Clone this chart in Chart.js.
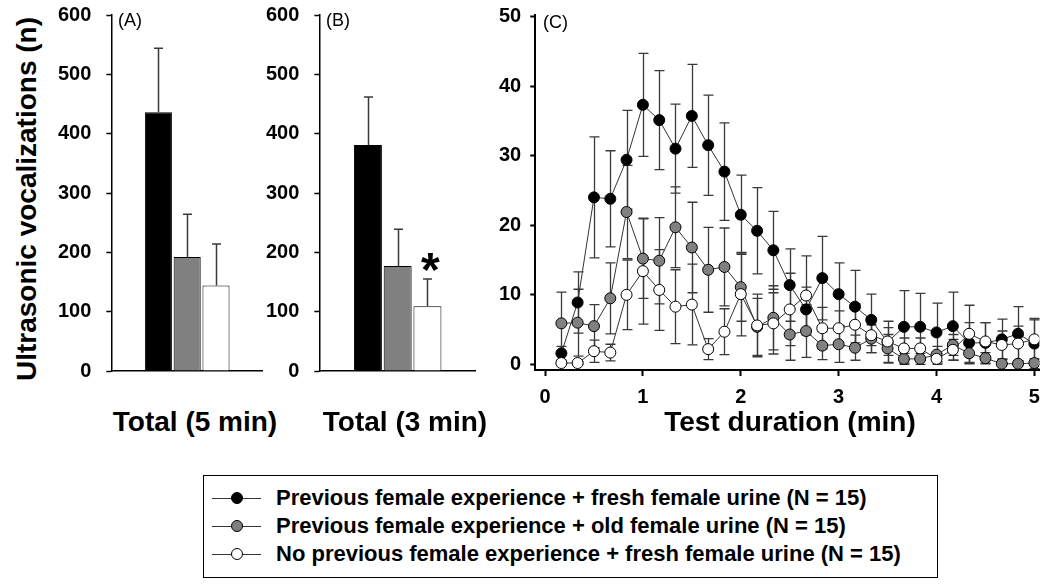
<!DOCTYPE html>
<html><head><meta charset="utf-8">
<script src="https://cdn.jsdelivr.net/npm/chart.js@4.4.0/dist/chart.umd.min.js"></script>
<style>
html,body{margin:0;padding:0;background:#fff;}
body{width:1050px;height:587px;overflow:hidden;position:relative;font-family:"Liberation Sans",Arial,sans-serif;color:#000;}
.wrap{position:absolute;left:0;top:0;}
.t{position:absolute;white-space:nowrap;line-height:1;}
.b{font-weight:bold;}
#legend{position:absolute;left:203px;top:475px;width:735px;height:103px;border:1.5px solid #000;box-sizing:border-box;}
.lrow{position:absolute;left:0;height:22px;width:730px;}
.lline{position:absolute;left:8px;width:49px;top:10.5px;height:1px;background:#333;}
.ldot{position:absolute;left:27px;top:5px;width:10px;height:10px;border:1px solid #000;border-radius:50%;}
.ltxt{position:absolute;left:72px;top:0;font-weight:bold;font-size:22px;line-height:22px;}
</style></head><body>
<div class="wrap" id="wA"><canvas id="cA"></canvas></div>
<div class="wrap" id="wB"><canvas id="cB"></canvas></div>
<div class="wrap" id="wC"><canvas id="cC"></canvas></div>

<div class="t b" id="ytitle" style="font-size:28px;left:27px;top:199px;transform:translate(-50%,-50%) rotate(-90deg);">Ultrasonic vocalizations (n)</div>
<div class="t" style="font-size:18px;left:118px;top:11px;">(A)</div>
<div class="t" style="font-size:18px;left:326px;top:11px;">(B)</div>
<div class="t" style="font-size:18px;left:543px;top:13px;">(C)</div>
<div class="t b" style="font-size:28px;left:195px;top:422px;transform:translate(-50%,-50%);">Total (5 min)</div>
<div class="t b" style="font-size:28px;left:405px;top:422px;transform:translate(-50%,-50%);">Total (3 min)</div>
<div class="t b" style="font-size:28px;left:790px;top:422px;transform:translate(-50%,-50%);">Test duration (min)</div>
<div class="t b" style="font-size:48px;left:421px;top:246px;line-height:48px;">*</div>

<div id="legend"></div>

<script>
// ---------- data ----------
const groupNames = [
  'Previous female experience + fresh female urine (N = 15)',
  'Previous female experience + old female urine (N = 15)',
  'No previous female experience + fresh female urine (N = 15)'
];
const groupFills = ['#000000', '#808080', '#ffffff'];

const total5Mean = [436, 192, 144];
const total5Sem  = [108, 72, 70];
const total3Mean = [381, 177, 109];
const total3Sem  = [81, 62, 46];
const barTicks = [0, 100, 200, 300, 400, 500, 600];

const timeMin = [0.167, 0.333, 0.5, 0.667, 0.833, 1, 1.167, 1.333, 1.5, 1.667,
                 1.833, 2, 2.167, 2.333, 2.5, 2.667, 2.833, 3, 3.167, 3.333,
                 3.5, 3.667, 3.833, 4, 4.167, 4.333, 4.5, 4.667, 4.833, 5];
const freshExpMean = [1.6, 8.9, 24.0, 23.8, 29.4, 37.3, 35.1, 31.0, 35.7, 31.5,
                      27.7, 21.5, 19.2, 16.4, 11.4, 7.9, 12.4, 10.1, 8.3, 6.4,
                      3.2, 5.4, 5.4, 4.6, 5.5, 3.1, 3.1, 3.6, 4.4, 3.0];
const freshExpSem  = [1.0, 4.4, 8.7, 6.9, 7.1, 7.4, 7.1, 6.4, 7.4, 7.2,
                      7.0, 5.7, 6.2, 5.6, 5.2, 3.2, 6.0, 4.5, 5.2, 3.7,
                      3.0, 5.2, 4.8, 4.2, 4.9, 2.9, 2.9, 2.9, 3.9, 3.6];
const oldExpMean   = [5.9, 6.0, 5.5, 9.5, 21.9, 15.2, 14.9, 19.7, 16.8, 13.6,
                      14.0, 11.1, 5.4, 6.7, 4.3, 4.8, 2.7, 2.9, 2.4, 3.7,
                      2.3, 0.8, 0.8, 1.4, 2.8, 1.6, 0.9, 0.1, 0.1, 0.2];
const oldExpSem    = [4.5, 4.8, 3.1, 5.1, 6.7, 5.7, 6.2, 5.8, 6.5, 6.1,
                      5.6, 4.9, 4.1, 4.6, 3.7, 3.8, 2.0, 2.6, 1.8, 2.0,
                      2.0, 0.8, 0.8, 1.2, 1.5, 1.5, 0.8, 0.1, 0.1, 0.2];
const freshNaiveMean = [0.2, 0.2, 1.9, 1.7, 10.0, 13.4, 10.7, 8.3, 8.6, 2.2,
                        4.7, 10.1, 5.6, 5.9, 7.9, 9.9, 5.2, 5.2, 5.7, 4.2,
                        3.3, 2.3, 2.3, 0.8, 2.1, 4.4, 3.3, 2.8, 3.0, 3.6];
const freshNaiveSem  = [0.2, 0.2, 1.6, 1.2, 5.0, 7.6, 5.8, 5.3, 5.8, 1.5,
                        3.3, 6.0, 4.5, 4.4, 5.2, 5.7, 3.0, 2.5, 3.0, 2.5,
                        2.0, 1.5, 1.5, 0.8, 1.5, 4.1, 2.7, 2.0, 2.5, 2.8];
const timeTicks = [0, 1, 2, 3, 4, 5];
const countTicks = [0, 10, 20, 30, 40, 50];

// ---------- helpers ----------
const FONT = "'Liberation Sans', Arial, sans-serif";

const errPlugin = {
  id: 'errbars',
  beforeDatasetsDraw(chart, args, opts) { if (opts.under) drawErr(chart, opts); },
  afterDatasetsDraw(chart, args, opts) { if (!opts.under) drawErr(chart, opts); }
};
function drawErr(chart, opts) {
  const ctx = chart.ctx, ys = chart.scales.y;
  ctx.save();
  ctx.strokeStyle = opts.color; ctx.lineWidth = opts.width;
  chart.data.datasets.forEach((ds, di) => {
    const meta = chart.getDatasetMeta(di);
    meta.data.forEach((el, i) => {
      const raw = ds.data[i];
      const v = (typeof raw === 'object') ? raw.y : raw;
      const e = ds.errors[i];
      const x = Math.round(el.x) + 0.5;
      const yT = ys.getPixelForValue(v + e);
      const yB = opts.mode === 'both' ? ys.getPixelForValue(v - e) : ys.getPixelForValue(v);
      const h = opts.cap / 2;
      ctx.beginPath();
      ctx.moveTo(x, yB); ctx.lineTo(x, yT);
      ctx.moveTo(x - h, yT); ctx.lineTo(x + h, yT);
      if (opts.mode === 'both') { ctx.moveTo(x - h, yB); ctx.lineTo(x + h, yB); }
      ctx.stroke();
    });
  });
  ctx.restore();
}

function fixTicks(list) { return s => { s.ticks = list.map(v => ({ value: v })); }; }

function makeBar(canvas, w, h, means, sems) {
  canvas.width = w; canvas.height = h;
  return new Chart(canvas, {
    type: 'bar',
    data: {
      labels: [''],
      datasets: groupNames.map((g, i) => ({
        label: g, data: [means[i]], errors: [sems[i]],
        backgroundColor: groupFills[i], borderColor: '#000', borderWidth: 1,
        barPercentage: 0.94, categoryPercentage: 0.57
      }))
    },
    options: {
      responsive: false, maintainAspectRatio: false, animation: false, events: [],
      layout: { padding: 0 },
      plugins: { legend: { display: false }, tooltip: { enabled: false },
                 errbars: { mode: 'up', cap: 9, color: '#3a3a3a', width: 1.5 } },
      scales: {
        x: { grid: { display: false }, ticks: { display: false },
             border: { color: '#000', width: 1.5 } },
        y: { min: 0, max: 600, afterBuildTicks: fixTicks(barTicks),
             grid: { drawOnChartArea: false, tickLength: 5, color: '#000', tickWidth: 1.5 },
             border: { color: '#000', width: 1.5 },
             ticks: { padding: 15, color: '#000', font: { family: FONT, weight: 'bold', size: 20 } } }
      }
    },
    plugins: [errPlugin]
  });
}

function makeLine(canvas, w, h) {
  canvas.width = w; canvas.height = h;
  const series = [
    { m: freshExpMean, s: freshExpSem, fill: groupFills[0], order: 2 },
    { m: oldExpMean, s: oldExpSem, fill: groupFills[1], order: 1 },
    { m: freshNaiveMean, s: freshNaiveSem, fill: groupFills[2], order: 0 }
  ];
  return new Chart(canvas, {
    type: 'line',
    data: {
      datasets: series.map((sr, i) => ({
        label: groupNames[i],
        data: timeMin.map((t, k) => ({ x: t, y: sr.m[k] })),
        errors: sr.s, order: sr.order,
        borderColor: '#333', borderWidth: 1, tension: 0,
        pointRadius: 5.5, pointBorderWidth: 1, pointBorderColor: '#000',
        pointBackgroundColor: sr.fill
      }))
    },
    options: {
      responsive: false, maintainAspectRatio: false, animation: false, events: [],
      layout: { padding: 0 },
      plugins: { legend: { display: false }, tooltip: { enabled: false },
                 errbars: { mode: 'both', under: true, cap: 10, color: '#3a3a3a', width: 1.3 } },
      scales: {
        x: { type: 'linear', min: -0.1, max: 5.05, afterBuildTicks: fixTicks(timeTicks),
             grid: { drawOnChartArea: false, tickLength: 6, color: '#000', tickWidth: 2 },
             border: { color: '#000', width: 2 },
             ticks: { padding: 9, color: '#000', font: { family: FONT, weight: 'bold', size: 20 } } },
        y: { min: -0.8, max: 50.2, afterBuildTicks: fixTicks(countTicks),
             grid: { drawOnChartArea: false, tickLength: 5, color: '#000', tickWidth: 2 },
             border: { color: '#000', width: 2 },
             ticks: { padding: 9, color: '#000', font: { family: FONT, weight: 'bold', size: 20 } } }
      }
    },
    plugins: [errPlugin]
  });
}

// place a chart so that its plotting area lands on a target rectangle
function place(wrapId, canvasId, factory, target) {
  const wrap = document.getElementById(wrapId);
  let canvas = document.getElementById(canvasId);
  let w0 = target.w + 120, h0 = target.h + 60;
  let ch = factory(canvas, w0, h0);
  const a = ch.chartArea;
  const w1 = Math.round(w0 + (target.w - (a.right - a.left)));
  const h1 = Math.round(h0 + (target.h - (a.bottom - a.top)));
  ch.destroy();
  ch = factory(canvas, w1, h1);
  const b = ch.chartArea;
  wrap.style.left = (target.x - b.left) + 'px';
  wrap.style.top = (target.y - b.top) + 'px';
  return ch;
}

place('wA', 'cA', (c, w, h) => makeBar(c, w, h, total5Mean, total5Sem), { x: 111, y: 15, w: 152, h: 356 });
place('wB', 'cB', (c, w, h) => makeBar(c, w, h, total3Mean, total3Sem), { x: 319, y: 15, w: 157, h: 356 });
place('wC', 'cC', (c, w, h) => makeLine(c, w, h), { x: 535, y: 15, w: 505, h: 355 });

// legend (HTML)
const lg = document.getElementById('legend');
const rowTops = [11, 39, 67];
groupNames.forEach((g, i) => {
  const r = document.createElement('div');
  r.className = 'lrow'; r.style.top = rowTops[i] + 'px';
  r.innerHTML = '<div class="lline"></div><div class="ldot" style="background:' + groupFills[i] + '"></div><div class="ltxt"></div>';
  r.querySelector('.ltxt').textContent = g;
  lg.appendChild(r);
});
</script>
</body></html>
